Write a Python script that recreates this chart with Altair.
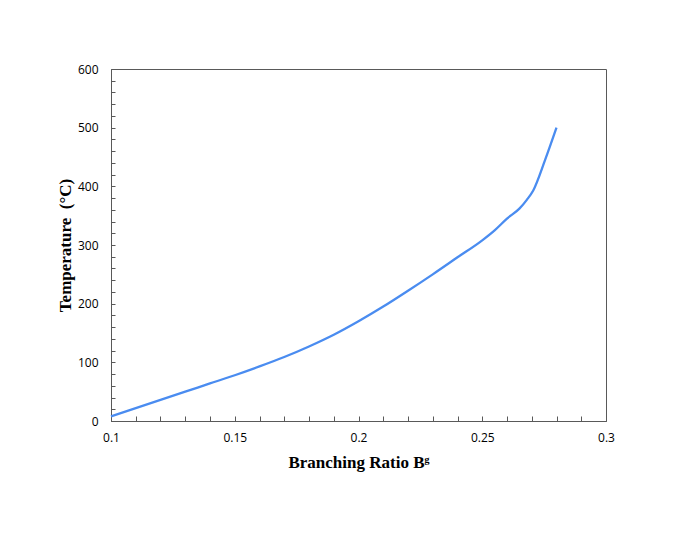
import altair as alt
import pandas as pd

ratio = [0.10, 0.11, 0.12, 0.13, 0.14, 0.15, 0.16, 0.17, 0.18, 0.19, 0.20,
         0.21, 0.22, 0.23, 0.24, 0.25, 0.255, 0.26, 0.265, 0.268, 0.2706,
         0.2754, 0.28]
temp = [8, 22, 36, 50, 64, 78, 93, 109, 127, 147, 170,
        195, 222, 250, 279, 308, 325, 345, 362, 377, 393,
        445, 500]

x_labels = [0.1, 0.15, 0.2, 0.25, 0.3]
y_labels = [0, 100, 200, 300, 400, 500, 600]
x_minor = [round(0.1 + 0.01 * i, 2) for i in range(21)]
y_minor = [20 * i for i in range(31)]

df = pd.DataFrame({"ratio": ratio, "temp": temp})

W, H = 495, 352
label_font = "Open Sans"
title_font = "Liberation Serif"

xs = alt.Scale(domain=[0.1, 0.3], nice=False)
ys = alt.Scale(domain=[0, 600], nice=False)

line = alt.Chart(df).mark_line(color="#4A8CF0", strokeWidth=2.3, interpolate="monotone").encode(
    x=alt.X("ratio:Q", scale=xs,
            axis=alt.Axis(values=x_labels, format="~g", ticks=False, grid=False,
                          domainColor="#595959", labelFont=label_font, labelFontSize=12,
                          labelColor="#000", labelPadding=11, labelFlush=False,
                          title="Branching Ratio Bᵍ", titleFont=title_font, titleFontSize=17,
                          titleFontWeight="bold", titleColor="#000", titleY=41,
                          titleBaseline="middle")),
    y=alt.Y("temp:Q", scale=ys,
            axis=alt.Axis(values=y_labels, ticks=False, grid=False,
                          domainColor="#595959", labelFont=label_font, labelFontSize=12,
                          labelColor="#000", labelPadding=13,
                          title="Temperature\u00a0\u00a0(°C)", titleFont=title_font, titleFontSize=17,
                          titleFontWeight="bold", titleColor="#000", titleX=-46,
                          titleY=H / 2, titleAngle=-90, titleBaseline="middle")),
)

ticks = alt.Chart(df).mark_line(strokeOpacity=0).encode(
    x=alt.X("ratio:Q", scale=xs,
            axis=alt.Axis(orient="top", offset=-H, values=x_minor, labels=False, domain=False,
                          grid=False, tickSize=5, tickColor="#595959", title=None)),
    y=alt.Y("temp:Q", scale=ys,
            axis=alt.Axis(orient="right", offset=-W, values=y_minor, labels=False, domain=False,
                          grid=False, tickSize=4, tickColor="#595959", title=None)),
)

chart = alt.layer(line, ticks).resolve_axis(x="independent", y="independent").properties(
    width=W, height=H,
    autosize=alt.AutoSizeParams(type="none"),
    padding={"left": 103, "top": 61, "right": 70, "bottom": 100},
    background="white",
).configure_view(stroke="#595959", strokeWidth=1)

chart.save("out.html", embed_options={"renderer": "svg", "actions": False})
